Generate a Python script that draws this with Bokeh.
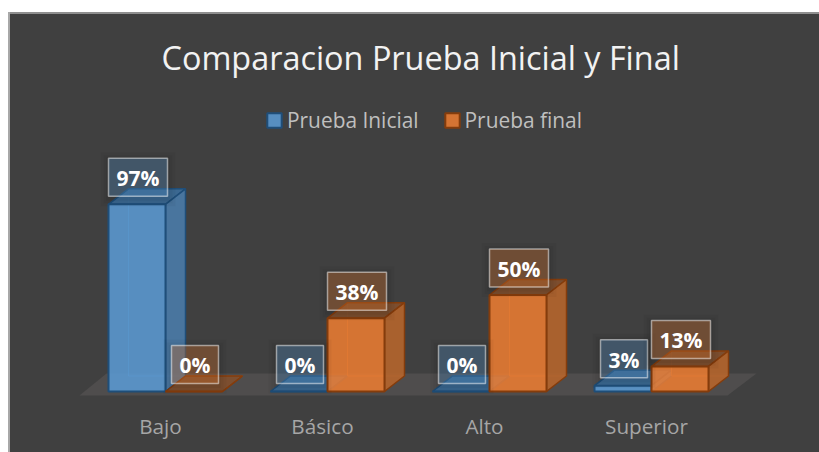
from bokeh.plotting import figure
from bokeh.embed import file_html
from bokeh.resources import INLINE
from bokeh.core.properties import value
from bokeh.models import Range1d, Legend, LegendItem, FixedTicker

categories = ["Bajo", "Básico", "Alto", "Superior"]
prueba_inicial = [97, 0, 0, 3]
prueba_final = [0, 38, 50, 13]
series_names = ["Prueba Inicial", "Prueba final"]
title_text = "Comparacion Prueba Inicial y Final"

FONT = "Open Sans"
BG = "#404040"
W, H = 811, 440
TOP_PAD = 78
BOTTOM_PAD = 52
PX_X = 162.0     # px per category
PX_Y = 1.93      # px per percent
X0_PX = 152.0    # px inside the figure of category 0

frame_h = H - TOP_PAD - BOTTOM_PAD
base_from_frame_bottom = (H - BOTTOM_PAD) - (391 - 12)

x_range = Range1d(-X0_PX / PX_X, (W - X0_PX) / PX_X)
y_range = Range1d(-base_from_frame_bottom / PX_Y, (frame_h - base_from_frame_bottom) / PX_Y)

p = figure(width=W, height=H, x_range=x_range, y_range=y_range,
           output_backend="svg", toolbar_location=None, margin=(12, 0, 0, 8),
           min_border_left=0, min_border_right=0, min_border_top=TOP_PAD,
           min_border_bottom=BOTTOM_PAD, background_fill_color=None,
           border_fill_color=None, outline_line_color=None,
           styles={"background-color": BG,
                   "box-shadow": "inset 2px 0 0 #a8a8a8, inset 0 2px 0 #8f8f8f"})
p.grid.visible = False
p.yaxis.visible = False
ax = p.xaxis[0]
ax.ticker = FixedTicker(ticks=list(range(len(categories))))
ax.major_label_overrides = {i: c for i, c in enumerate(categories)}
ax.axis_line_color = None
ax.major_tick_line_color = None
ax.minor_tick_line_color = None
ax.major_label_standoff = 5
ax.major_label_text_font = FONT
ax.major_label_text_font_size = "20.7px"
ax.major_label_text_color = "#a6a6a6"

p.title.text = title_text
p.title.text_font = FONT
p.title.text_font_size = "32.4px"
p.title.text_font_style = "normal"
p.title.text_color = "#f2f2f2"
p.title.align = "left"
p.title.offset = 153
p.title.standoff = 24

BAR_W = 57 / PX_X
CENTER = 5 / PX_X
DX = 20 / PX_X
DY = 15.5 / PX_Y

# floor
fx = [(80 - 161) / PX_X, (728 - 161) / PX_X, (757 - 161) / PX_X, (107 - 161) / PX_X]
fy = [-4 / PX_Y, -4 / PX_Y, 18 / PX_Y, 18 / PX_Y]
p.patch(fx, fy, fill_color="#4f4d4d", line_color=None)


def bar_faces(vals, side):
    xl = [i + CENTER + (-BAR_W if side == 0 else 0) for i in range(len(vals))]
    xr = [x + BAR_W for x in xl]
    front = ([[a, b, b, a] for a, b in zip(xl, xr)], [[0, 0, v, v] for v in vals])
    right = ([[b, b + DX, b + DX, b] for b in xr], [[0, DY, v + DY, v] for v in vals])
    top = ([[a, b, b + DX, a + DX] for a, b in zip(xl, xr)],
           [[v, v, v + DY, v + DY] for v in vals])
    back_x = [[a + DX, a + DX, b + DX] for a, b in zip(xl, xr)]
    back_y = [[v + DY, DY, DY] for v in vals]
    return front, right, top, back_x, back_y


styles = [
    dict(front="#5b9bd5", side="#4a7ba8", top="#3b6a96", edge="#1f4e79"),
    dict(front="#ed7d31", side="#b5652c", top="#7f4f2e", edge="#843c0c"),
]
legend_items = []
for s, vals in enumerate([prueba_inicial, prueba_final]):
    st = styles[s]
    front, right, top, bx, by = bar_faces(vals, s)
    p.multi_line(bx, by, line_color=st["front"], line_alpha=0.45, line_width=1)
    p.patches(*top, fill_color=st["top"], fill_alpha=0.95, line_color=st["edge"], line_width=1.5)
    p.patches(*right, fill_color=st["side"], fill_alpha=0.9, line_color=st["edge"], line_width=1.5)
    r = p.patches(*front, fill_color=st["front"], fill_alpha=0.86, line_color=st["edge"], line_width=2)
    legend_items.append(LegendItem(label=value(series_names[s]), renderers=[r]))

# data labels
LABEL_H = 38 / PX_Y
LABEL_UP = 27 / PX_Y
LABEL_SHIFT = 1 / PX_X
TEXT_DROP = 0.8 / PX_Y
WIDE = 59 / PX_X
NARROW = 47 / PX_X
for s, vals in enumerate([prueba_inicial, prueba_final]):
    st = styles[s]
    xc = [i + CENTER + LABEL_SHIFT + (-BAR_W / 2 if s == 0 else BAR_W / 2) for i in range(len(vals))]
    yc = [v + LABEL_UP for v in vals]
    w = [WIDE if v >= 10 else NARROW for v in vals]
    for grow in (16, 10, 5):
        p.rect(xc, [y - 2 / PX_Y for y in yc], [a + grow / PX_X for a in w],
               LABEL_H + grow / PX_Y, fill_color="#000000", fill_alpha=0.035, line_color=None)
    p.rect(xc, yc, w, LABEL_H, fill_color=st["front"], fill_alpha=0.31,
           line_color="#ffffff", line_alpha=0.5, line_width=1.5)
    p.text(xc, [y - TEXT_DROP for y in yc], text=[f"{v}%" for v in vals], text_align="center",
           text_baseline="middle", text_font=value(FONT), text_font_style="bold",
           text_font_size="21px", text_color="#ffffff")

legend = Legend(items=legend_items, orientation="horizontal", location=(257, 266),
                background_fill_alpha=0, border_line_color=None, padding=0, margin=0,
                glyph_width=18, glyph_height=18, label_standoff=4, spacing=24,
                label_text_font=FONT, label_text_font_size="20.9px",
                label_text_color="#bfbfbf")
p.add_layout(legend)

open("out.html", "w").write(file_html(p, INLINE))
